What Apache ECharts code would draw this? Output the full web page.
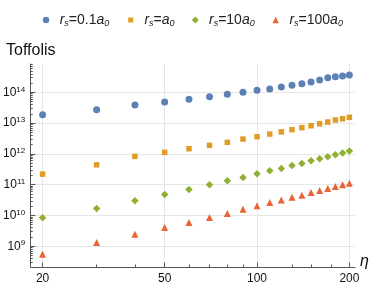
<!DOCTYPE html>
<html>
<head>
<meta charset="utf-8">
<script src="https://cdn.jsdelivr.net/npm/echarts@6/dist/echarts.min.js"></script>
<style>
html,body{margin:0;padding:0;background:#fff;}
#c{width:374px;height:289px;}
</style>
</head>
<body>
<div id="c"></div>
<script>
// ---- data ----
const eta = [20, 30, 40, 50, 60, 70, 80, 90, 100, 110, 120, 130, 140, 150, 160, 170, 180, 190, 200];
const rs01 = [1.87e13, 2.7e13, 3.86e13, 4.8e13, 5.9e13, 7.2e13, 8.6e13, 1.0e14, 1.16e14, 1.28e14, 1.49e14, 1.69e14, 1.9e14, 2.16e14, 2.51e14, 2.98e14, 3.21e14, 3.39e14, 3.65e14];
const rs1 = [2.2e11, 4.4e11, 8.3e11, 1.12e12, 1.47e12, 1.89e12, 2.37e12, 3.03e12, 3.6e12, 4.4e12, 5.2e12, 6.1e12, 7.1e12, 8.2e12, 9.5e12, 1.08e13, 1.26e13, 1.38e13, 1.54e13];
const rs10 = [8.4e9, 1.69e10, 2.99e10, 4.8e10, 7.0e10, 9.9e10, 1.33e11, 1.72e11, 2.25e11, 2.82e11, 3.37e11, 4.2e11, 4.9e11, 5.97e11, 6.9e11, 8.1e11, 9.4e11, 1.06e12, 1.23e12];
const rs100 = [5.5e8, 1.32e9, 2.47e9, 4.07e9, 5.9e9, 8.6e9, 1.16e10, 1.6e10, 2.05e10, 2.65e10, 3.15e10, 3.94e10, 4.57e10, 5.6e10, 6.5e10, 7.55e10, 8.8e10, 9.9e10, 1.12e11];
const seriesNames = ['rs=0.1a0', 'rs=a0', 'rs=10a0', 'rs=100a0'];
const xTickLabels = [20, 50, 100, 200];
const xMinorTicks = [30, 40, 60, 70, 80, 90, 130, 150, 175];
const yTickLabels = [1e9, 1e10, 1e11, 1e12, 1e13, 1e14];
const yMinorMult = [2, 3, 4, 5, 6, 7, 8, 9];
const xRange = [18.3, 208.6];
const yRange = [2.12e8, 8.3e14];

// ---- helpers ----
const L = Math.log10;
const pts = arr => eta.map((e, i) => [L(e), L(arr[i])]);
const yMinor = [];
for (let n = 8; n <= 14; n++) yMinorMult.forEach(k => { const v = k * Math.pow(10, n); if (v > yRange[0] && v < yRange[1]) yMinor.push(L(v)); });

const colors = ['#5E81B5', '#E19C24', '#8FB032', '#EB6235'];
const symbols = ['circle', 'rect', 'diamond', 'triangle'];
const sizes = [7, 5.5, 7.5, 7];
const legendIconSize = [6.5, 5, 7, 6.5];
const legendFmt = {
  'rs=0.1a0': '{g| }{i|r}{s|s}{n|=0.1}{i|a}{s|0}',
  'rs=a0': '{g| }{i|r}{s|s}{n|=}{i|a}{s|0}',
  'rs=10a0': '{g| }{i|r}{s|s}{n|=10}{i|a}{s|0}',
  'rs=100a0': '{g| }{i|r}{s|s}{n|=100}{i|a}{s|0}'
};
const legendCenter = [41, 125.7, 190.3, 270.7];
const mkRich = gap => ({
  g: {width: gap, fontSize: 14, lineHeight: 16},
  i: {fontStyle: 'italic', fontSize: 14, lineHeight: 16, color: '#222', fontFamily: 'Liberation Sans'},
  n: {fontSize: 14, lineHeight: 16, color: '#222', fontFamily: 'Liberation Sans'},
  s: {fontStyle: 'italic', fontSize: 9, lineHeight: 6, verticalAlign: 'bottom', color: '#222', fontFamily: 'Liberation Sans'}
});

const chart = echarts.init(document.getElementById('c'), null, {renderer: 'canvas'});
const gridLine = {show: true, lineStyle: {color: '#e6e6e6', width: 1}};
const axisCol = '#555';

chart.setOption({
  animation: false,
  textStyle: {fontFamily: 'Liberation Sans'},
  title: {text: 'Toffolis', left: 1, top: 38, textStyle: {fontSize: 16, fontWeight: 'normal', color: '#111', fontFamily: 'Liberation Sans'}},
  legend: seriesNames.map((nm, i) => ({
    left: legendCenter[i] - legendIconSize[i] / 2, top: 8,
    itemWidth: legendIconSize[i], itemHeight: legendIconSize[i],
    data: [{name: nm, icon: symbols[i]}],
    formatter: n => legendFmt[n],
    textStyle: {rich: mkRich(8.7 - legendIconSize[i] / 2 - 5 + 5)},
    selectedMode: false
  })),
  grid: {left: 26.7, right: 19, top: 64, bottom: 22, containLabel: false},
  xAxis: [{
    type: 'value', min: L(xRange[0]), max: L(xRange[1]),
    name: 'η', nameLocation: 'end', nameGap: 5,
    nameTextStyle: {fontStyle: 'italic', fontSize: 16, color: '#111', verticalAlign: 'bottom', lineHeight: 16, padding: [0, 0, -3, 0], fontFamily: 'Liberation Sans'},
    axisLine: {show: true, onZero: false, lineStyle: {color: axisCol}},
    axisTick: {show: true, inside: true, length: 4.5, lineStyle: {color: axisCol}, customValues: xTickLabels.map(L)},
    axisLabel: {show: true, customValues: xTickLabels.map(L), formatter: v => String(Math.round(Math.pow(10, v))), fontSize: 12, color: '#111', margin: 6},
    splitLine: gridLine
  }, {
    type: 'value', min: L(xRange[0]), max: L(xRange[1]), position: 'bottom',
    axisLine: {show: false},
    axisTick: {show: true, inside: true, length: 2.5, lineStyle: {color: axisCol}, customValues: xMinorTicks.map(L)},
    axisLabel: {show: false}, splitLine: {show: false}
  }],
  yAxis: [{
    type: 'value', min: L(yRange[0]), max: L(yRange[1]),
    axisLine: {show: true, onZero: false, lineStyle: {color: axisCol}},
    axisTick: {show: true, inside: true, length: 4.5, lineStyle: {color: axisCol}, customValues: yTickLabels.map(L)},
    axisLabel: {
      show: true, customValues: yTickLabels.map(L), margin: 5.5,
      formatter: v => '{b|10}{p|' + Math.round(v) + '}',
      rich: {
        b: {fontSize: 12, lineHeight: 14, color: '#111', fontFamily: 'Liberation Sans'},
        p: {fontSize: 8, lineHeight: 7, verticalAlign: 'top', color: '#111', fontFamily: 'Liberation Sans'}
      }
    },
    splitLine: gridLine
  }, {
    type: 'value', min: L(yRange[0]), max: L(yRange[1]), position: 'left',
    axisLine: {show: false},
    axisTick: {show: true, inside: true, length: 2, lineStyle: {color: axisCol}, customValues: yMinor},
    axisLabel: {show: false}, splitLine: {show: false}
  }],
  series: [rs01, rs1, rs10, rs100].map((arr, i) => ({
    name: seriesNames[i], type: 'scatter', xAxisIndex: 0, yAxisIndex: 0,
    symbol: symbols[i], symbolSize: sizes[i],
    itemStyle: {color: colors[i], opacity: 1},
    data: pts(arr)
  }))
});
</script>
</body>
</html>
